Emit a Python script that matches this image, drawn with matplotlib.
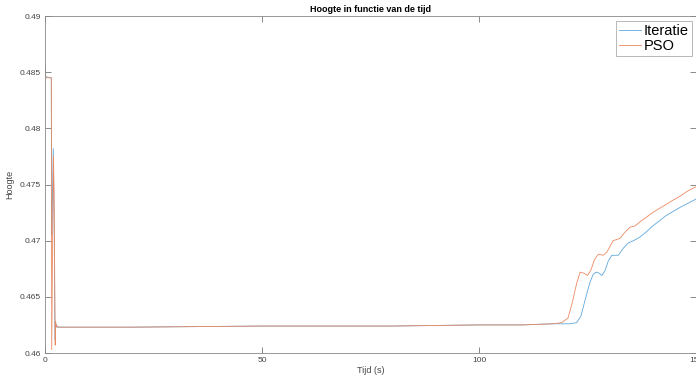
import matplotlib
matplotlib.use('Agg')
import matplotlib.pyplot as plt

plt.rcParams['font.family'] = ['Liberation Sans', 'DejaVu Sans']

# Iteratie (blue)
t_iter = [0, 0.1, 1.45, 1.55, 1.6, 1.9, 2.1, 2.3, 2.5, 2.8, 3.2, 5, 20, 50, 80, 100, 110, 117,
          121, 122.5, 123.5, 124.5, 125.5, 126.3, 127.0, 127.7, 128.3, 129.0, 129.8,
          130.6, 132.1, 133.2, 134.4, 135.6, 137.0, 138.6, 140.0, 141.7, 143.0,
          144.7, 146.5, 148.0, 150]
h_iter = [0.4855, 0.4846, 0.4845, 0.4705, 0.4712, 0.4782, 0.4720, 0.4612, 0.4626, 0.4623,
          0.4623, 0.4623, 0.4623, 0.4624, 0.4624, 0.4625, 0.4625, 0.4626,
          0.4626, 0.4627, 0.4633, 0.4648, 0.4662, 0.4670, 0.4672, 0.4671, 0.4669,
          0.4673, 0.4682, 0.4687, 0.4687, 0.4693, 0.4698, 0.4700, 0.4703, 0.4708,
          0.4713, 0.4718, 0.4722, 0.4726, 0.4730, 0.4733, 0.4737]

# PSO (orange)
t_pso = [0, 0.1, 0.3, 1.3, 1.45, 1.55, 1.75, 1.95, 2.1, 2.35, 2.45, 2.6, 2.8, 3.2,
         5, 20, 50, 80, 100, 110, 117, 119, 120.5, 121.5, 122.5, 123.3, 124.2,
         125.0, 125.8, 126.6, 127.5, 128.6, 129.5, 130.9, 132.5, 133.5, 134.8,
         135.9, 137.2, 138.6, 140.0, 141.7, 143.0, 144.7, 146.5, 148.0, 150]
h_pso = [0.4856, 0.4846, 0.4845, 0.4845, 0.4845, 0.4603, 0.4700, 0.4775, 0.4740,
         0.4607, 0.4628, 0.4623, 0.4624, 0.4623,
         0.4623, 0.4623, 0.4624, 0.4624, 0.4625, 0.4625, 0.4626, 0.4627, 0.4631,
         0.4645, 0.4662, 0.4672, 0.4671, 0.4669, 0.4674, 0.4683, 0.4688, 0.4687,
         0.4690, 0.4700, 0.4702, 0.4707, 0.4712, 0.4713, 0.4717, 0.4721, 0.4725,
         0.4729, 0.4732, 0.4736, 0.4740, 0.4744, 0.4748]

x_ticks = [0, 50, 100, 150]
y_ticks = [0.46, 0.465, 0.47, 0.475, 0.48, 0.485, 0.49]
y_tick_labels = ['0.46', '0.465', '0.47', '0.475', '0.48', '0.485', '0.49']

fig = plt.figure(figsize=(6.96, 3.76), dpi=100)
ax = fig.add_axes([45 / 696, 23 / 376, 651 / 696, 337 / 376])

ax.plot(t_iter, h_iter, color='#5fa8dc', lw=0.6, label='Iteratie')
ax.plot(t_pso, h_pso, color='#ec8a62', lw=0.6, label='PSO')

ax.set_xlim(0, 150)
ax.set_ylim(0.46, 0.49)
ax.set_xticks(x_ticks)
ax.set_yticks(y_ticks)
ax.set_yticklabels(y_tick_labels)
ax.tick_params(direction='in', top=True, right=True, length=4, width=0.6,
               colors='#777777', labelsize=6, labelcolor='#444444', pad=3)
for s in ax.spines.values():
    s.set_color('#888888')
    s.set_linewidth(0.6)

ax.set_title('Hoogte in functie van de tijd', fontsize=6.5, fontweight='bold', pad=3)
ax.set_xlabel('Tijd (s)', fontsize=6.5, color='#444444', labelpad=1)
ax.set_ylabel('Hoogte', fontsize=6.5, color='#444444', labelpad=4)

leg = ax.legend(loc='upper right', fontsize=10.5, frameon=True, fancybox=False,
                bbox_to_anchor=(0.996, 0.99), borderaxespad=0.1, handlelength=1.5,
                handletextpad=0.2, borderpad=0.2, labelspacing=0.1)
leg.get_frame().set_edgecolor('#999999')
leg.get_frame().set_linewidth(0.6)

fig.savefig('out.png', dpi=100)
